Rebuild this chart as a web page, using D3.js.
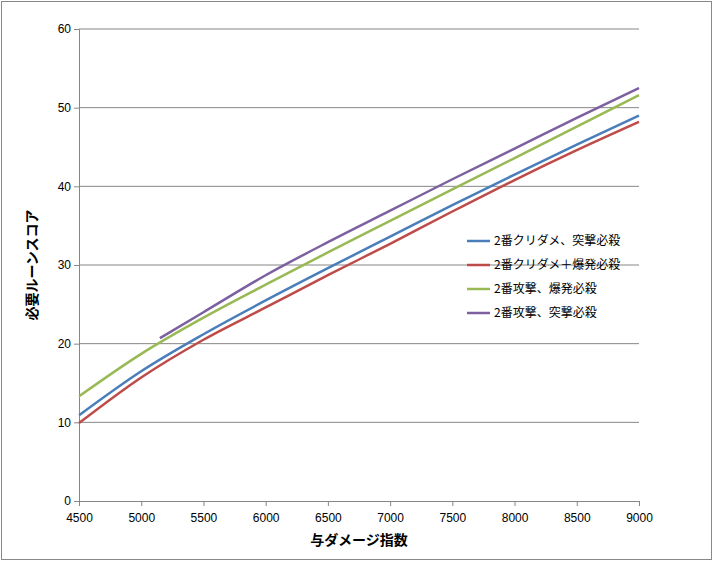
<!DOCTYPE html>
<html><head><meta charset="utf-8">
<script src="https://cdn.jsdelivr.net/npm/d3@7"></script>
<style>body{margin:0;background:#fff}svg{font-family:"Noto Sans CJK JP","Liberation Sans",sans-serif}</style>
</head><body><svg id="c" width="713" height="561"></svg>
<script>
const xs=[4500,5000,5500,6000,6500,7000,7500,8000,8500,9000];
const blue=[10.9,16.5,21.2,25.5,29.6,33.6,37.6,41.5,45.3,49.0];
const red=[9.9,15.7,20.5,24.6,28.7,32.7,36.8,40.8,44.6,48.2];
const green=[13.3,18.7,23.3,27.5,31.6,35.6,39.6,43.6,47.6,51.6];
const purpleX=[5150,5500,6000,6500,7000,7500,8000,8500,9000];
const purple=[20.7,24.0,28.7,32.9,36.9,40.9,44.8,48.7,52.5];
const names=["2番クリダメ、突撃必殺","2番クリダメ＋爆発必殺","2番攻撃、爆発必殺","2番攻撃、突撃必殺"];
const colors=["#4a7ebb","#be4b48","#98b954","#7d60a0"];
const xTicks=[4500,5000,5500,6000,6500,7000,7500,8000,8500,9000];
const yTicks=[0,10,20,30,40,50,60];
const svg=d3.select("#c");
svg.append("rect").attr("x",1.5).attr("y",1.5).attr("width",710).attr("height",558).attr("fill","#fff").attr("stroke","#888");
const x=d3.scaleLinear().domain([4500,9000]).range([79,639]);
const y=d3.scaleLinear().domain([0,60]).range([501,29]);
svg.append("g").selectAll("line").data(yTicks.slice(1)).join("line")
 .attr("x1",79).attr("x2",639).attr("y1",d=>y(d)).attr("y2",d=>y(d)).attr("stroke","#868686");
const ax=svg.append("g").attr("transform","translate(0,501)").call(d3.axisBottom(x).tickValues(xTicks).tickSize(5).tickFormat(d3.format("d")));
const ay=svg.append("g").attr("transform","translate(79,0)").call(d3.axisLeft(y).tickValues(yTicks).tickSize(5));
[ax,ay].forEach(a=>{a.selectAll("path,line").attr("stroke","#868686");a.selectAll("text").attr("font-size",12).attr("fill","#000");});
ax.selectAll("text").attr("dy","1.1em");
const line=d3.line().x(d=>x(d[0])).y(d=>y(d[1])).curve(d3.curveMonotoneX);
const series=[xs.map((v,i)=>[v,blue[i]]),xs.map((v,i)=>[v,red[i]]),xs.map((v,i)=>[v,green[i]]),purpleX.map((v,i)=>[v,purple[i]])];
series.forEach((s,i)=>svg.append("path").attr("d",line(s)).attr("fill","none").attr("stroke",colors[i]).attr("stroke-width",2.5));
names.forEach((n,i)=>{const yy=241+i*24;
 svg.append("line").attr("x1",467).attr("x2",490).attr("y1",yy).attr("y2",yy).attr("stroke",colors[i]).attr("stroke-width",2.5);
 svg.append("text").attr("x",494).attr("y",yy+4).attr("font-size",12).text(n);});
svg.append("text").attr("x",359).attr("y",545).attr("text-anchor","middle").attr("font-size",14).attr("font-weight","bold").text("与ダメージ指数");
svg.append("text").attr("transform","translate(37,265) rotate(-90)").attr("text-anchor","middle").attr("font-size",14).attr("font-weight","bold").text("必要ルーンスコア");
</script></body></html>
